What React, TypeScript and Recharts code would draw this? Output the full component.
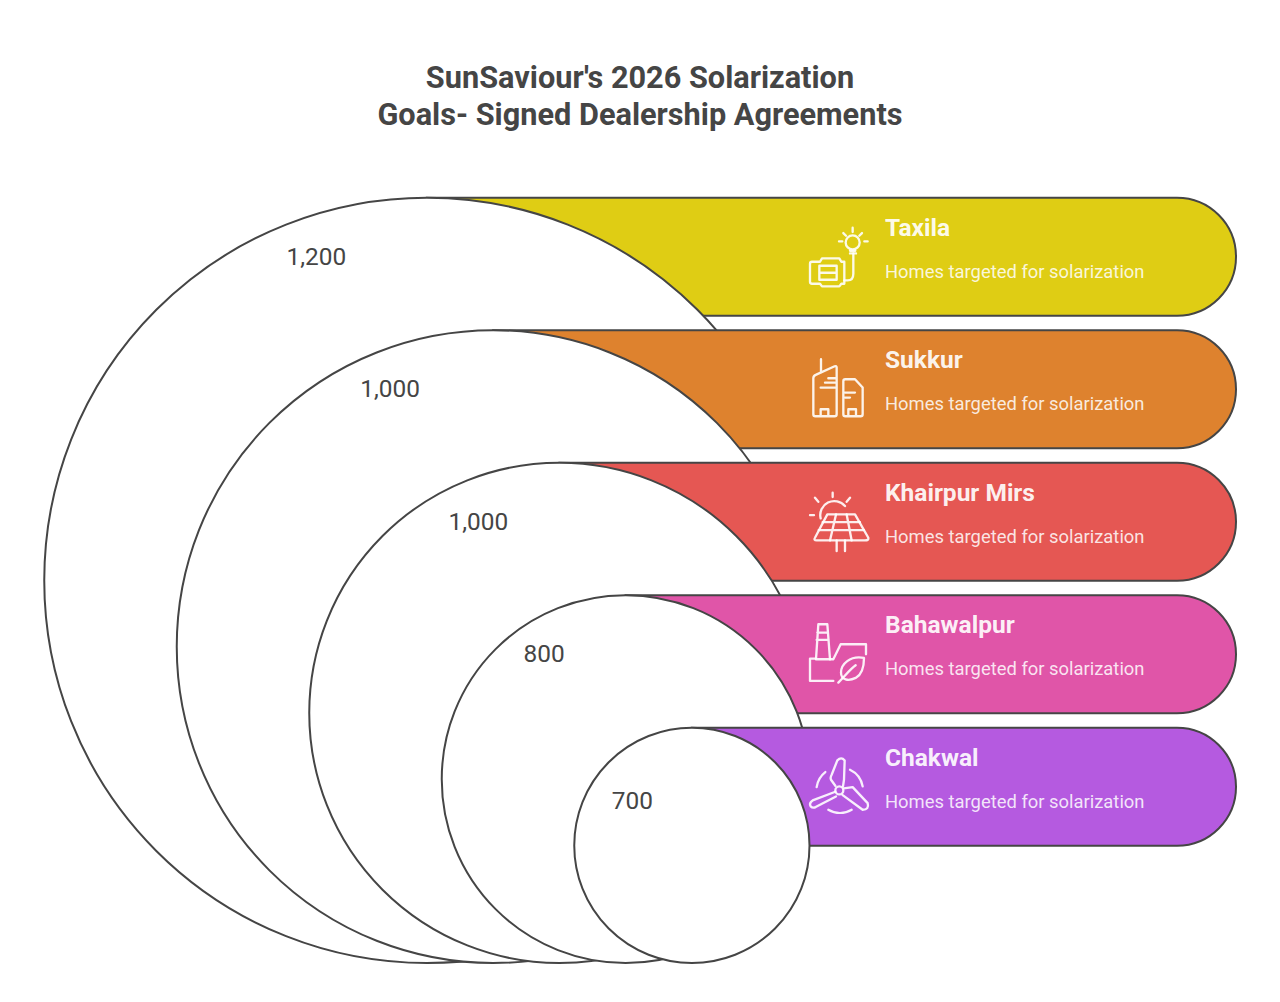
import { BarChart, Bar, XAxis, YAxis } from 'recharts';

const cities = ['Taxila', 'Sukkur', 'Khairpur Mirs', 'Bahawalpur', 'Chakwal'];
const homes = [1200, 1000, 1000, 800, 700];
const caption = 'Homes targeted for solarization';
const colors = ['#DFCD14', '#DE822E', '#E55753', '#E055A8', '#B55AE0'];

const data = cities.map((name, i) => ({ name, homes: homes[i], track: 1 }));

const INK = '#454545';
const CIRCLE_BOTTOM = 963;
const CIRCLE_RIGHT = 809.5;
const STEP = 132.5;
const FONT = 'Roboto, sans-serif';

// where the number sits, measured from the top of each circle
const labelOffset = [
  [-110.5, 59],
  [-103, 58.5],
  [-81, 58.5],
  [-81.5, 58.5],
  [-59.5, 73],
];

// icons are traced at 3x and scaled down in the shape
const iconTop = [22, 24, 25, 24, 22];
const icons = [
  <>
    <circle cx={158} cy={68} r={21} />
    <path d="M158 24V37M130 40l8 8M186 40l-8 8M117 65h10M193 65h10M150 93h16M150 101h18" />
    <path d="M160 101V162Q160 182 143 182H133" />
    <path d="M36 126H60L66 116H118L124 126H133V192H124L118 200H66L60 192H36Q30 192 30 186V132Q30 126 36 126Z" />
    <path d="M58 138H110V180H58ZM58 159H110" />
  </>,
  <>
    <path d="M47 62L104 36Q110 34 110 40V180Q110 186 104 186H46Q40 186 40 180V72Q40 65 47 62ZM63 15V52M85 72H105M75 85H105M62 100H105M62 186V165H85V186" />
    <path d="M136 75H165L188 100V180Q188 186 182 186H136Q130 186 130 180V81Q130 75 136 75ZM135 115H165M135 130H150M145 186V165H168V186" />
  </>,
  <>
    <path d="M62 92A42 42 0 0 1 135 55M45 30l10 12M98 15V28M150 30l-10 12M30 82H42" />
    <path d="M82 80H165L205 150Q207 158 195 158H50Q40 158 45 150Z" />
    <path d="M68 103H180M56 127H192M108 80L90 158M140 80L155 158M110 158V190M135 158V190" />
  </>,
  <>
    <path d="M55 15H82L90 120H48ZM52 40H84M50 62H86" />
    <path d="M90 120H100L122 75H198V105M48 118H30V185H100" />
    <path d="M192 116C150 108 123 135 123 160C123 182 145 187 167 176C187 165 192 140 192 116Z" />
    <path d="M115 190C135 170 150 150 167 138" />
  </>,
  <>
    <circle cx={118} cy={122} r={12} />
    <path d="M106 108L93 90Q90 84 95 75L112 32Q124 20 134 32L132 90L129 110" />
    <path d="M106 126L38 152Q26 160 32 170Q38 176 47 172L108 140" />
    <path d="M131 116L158 112L203 160Q208 180 188 180L128 136" />
    <path d="M50 112A69 69 0 0 1 76 67M150 60A69 69 0 0 1 188 110M85 180A69 69 0 0 0 155 180" />
  </>,
];

const PillAndCircle = (props: any) => {
  const { x, y, width, height, index, payload } = props;
  const r = (CIRCLE_BOTTOM - y) / 2;
  const cx = CIRCLE_RIGHT - r;
  const right = x + width;
  const pr = height / 2;
  const [dx, dy] = labelOffset[index];
  // the part of a circle past the next circle's centre and below its top never shows
  const nextTop = y + STEP;
  const nextCx = CIRCLE_RIGHT - (CIRCLE_BOTTOM - nextTop) / 2;
  const last = index === cities.length - 1;
  return (
    <g>
      <clipPath id={`crescent-${index}`}>
        <path clipRule="evenodd" d={`M0 0H1280V1002H0ZM${nextCx} ${nextTop}H1280V1002H${nextCx}Z`} />
      </clipPath>
      <path
        d={`M${cx} ${y}H${right - pr}A${pr} ${pr} 0 0 1 ${right - pr} ${y + height}H${cx}Z`}
        fill={colors[index]}
        stroke={INK}
        strokeWidth={2}
      />
      <circle
        cx={cx}
        cy={y + r}
        r={r}
        fill="#fff"
        stroke={INK}
        strokeWidth={2}
        clipPath={last ? undefined : `url(#crescent-${index})`}
      />
      <text x={cx + dx} y={y + dy} textAnchor="middle" dominantBaseline="central" fontFamily={FONT} fontSize={24.4} fill={INK}>
        {payload.homes.toLocaleString('en-US')}
      </text>
      <g
        transform={`translate(800 ${y + iconTop[index]}) scale(0.3333)`}
        fill="none"
        stroke="#fff"
        strokeOpacity={0.9}
        strokeWidth={7}
        strokeLinecap="round"
        strokeLinejoin="round"
      >
        {icons[index]}
      </g>
      <text x={885} y={y + 38} fontFamily={FONT} fontSize={24.5} fontWeight={700} fill="#fff" fillOpacity={0.93}>
        {payload.name}
      </text>
      <text x={885} y={y + 80} fontFamily={FONT} fontSize={18.4} fill="#fff" fillOpacity={0.85}>
        {caption}
      </text>
    </g>
  );
};

export default function App() {
  return (
    <div style={{ position: 'absolute', left: 0, top: 0, width: 1280, height: 1002, background: '#fff' }}>
      <div
        style={{
          position: 'absolute',
          top: 58.5,
          width: 1280,
          textAlign: 'center',
          fontFamily: FONT,
          fontWeight: 700,
          fontSize: 30.7,
          lineHeight: '37px',
          color: '#454545',
        }}
      >
        SunSaviour's 2026 Solarization
        <br />
        Goals- Signed Dealership Agreements
      </div>
      <BarChart
        layout="vertical"
        width={1280}
        height={1002}
        data={data}
        margin={{ top: 190.75, right: 44, bottom: 148.75, left: 44 }}
        barCategoryGap={14.5}
      >
        <XAxis type="number" domain={[0, 1]} hide />
        <YAxis type="category" dataKey="name" hide />
        <Bar dataKey="track" barSize={118} shape={PillAndCircle} isAnimationActive={false} />
      </BarChart>
    </div>
  );
}
